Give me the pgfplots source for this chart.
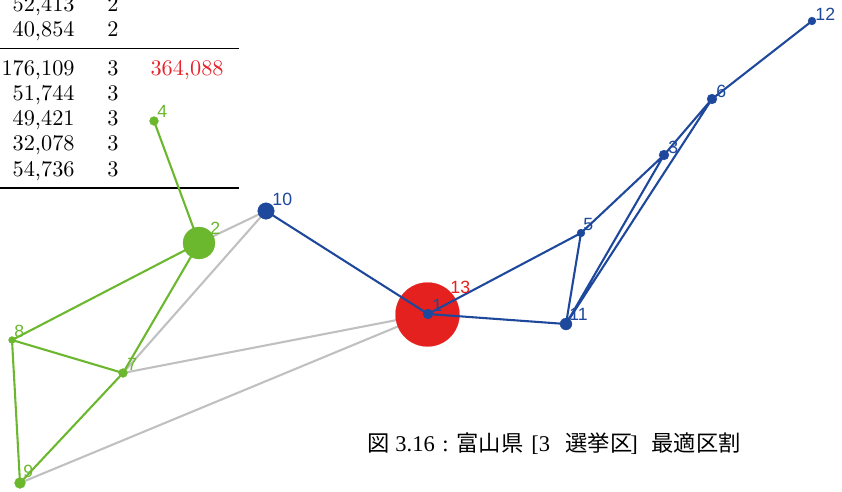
\documentclass[border=0pt]{standalone}
\usepackage{pgfplots}
\pgfplotsset{compat=1.18}
\usepackage{fontspec}
\newfontfamily\cjk{Noto Sans CJK JP}
\newfontfamily\lab{Liberation Sans}
\newfontfamily\tms{Liberation Serif}

\definecolor{nblue}{RGB}{29,72,155}
\definecolor{ngreen}{RGB}{107,183,45}
\definecolor{nred}{RGB}{228,33,30}
\definecolor{ngrey}{RGB}{192,192,192}
\definecolor{tred}{RGB}{232,33,42}

% node positions (pixel grid of the page, y downwards) and radius
\pgfplotstableread{
x y r
428 314 5
664 155 5
581 233 4
712 99 5
266 211 8.3
566 324 6
812 21 4
}\bluenodes
\pgfplotstableread{
x y r
199 243 16
154 121 4.5
123 373 4.5
12 340 3.5
20 483 5.5
}\greennodes
\pgfplotstableread{
x y r
427.5 314.5 32
}\rednodes

\begin{document}
\begin{tikzpicture}
\begin{axis}[
    hide axis, scale only axis,
    width=404.16pt, height=235.68pt,
    xmin=0, xmax=842, ymin=0, ymax=491,
    y dir=reverse, clip=false,
    clip marker paths=true,
    unbounded coords=jump,
    nodeset/.style={scatter, only marks, mark=*,
        point meta=\thisrow{r},
        scatter/use mapped color={draw=#1, fill=#1, line width=0.1pt},
        visualization depends on={0.48*\thisrow{r} \as \rad},
        scatter/@pre marker code/.append style={/tikz/mark size=\rad}},
]
% table fragment
\begin{scope}[every node/.style={inner sep=0pt, font=\fontsize{10.7}{12}\selectfont}]
\node[anchor=base east] at (axis cs:75,11) {52,413};
\node[anchor=base] at (axis cs:113,11) {2};
\node[anchor=base east] at (axis cs:75,36) {40,854};
\node[anchor=base] at (axis cs:113,36) {2};
\node[anchor=base east] at (axis cs:75,75) {176,109};
\node[anchor=base] at (axis cs:113,75) {3};
\node[anchor=base east, text=tred] at (axis cs:224,75) {364,088};
\node[anchor=base east] at (axis cs:75,100) {51,744};
\node[anchor=base] at (axis cs:113,100) {3};
\node[anchor=base east] at (axis cs:75,125) {49,421};
\node[anchor=base] at (axis cs:113,125) {3};
\node[anchor=base east] at (axis cs:75,150) {32,078};
\node[anchor=base] at (axis cs:113,150) {3};
\node[anchor=base east] at (axis cs:75,176) {54,736};
\node[anchor=base] at (axis cs:113,176) {3};
\end{scope}
\draw[line width=0.5pt] (axis cs:-20,48.5) -- (axis cs:239,48.5);
\draw[line width=0.8pt] (axis cs:-20,188) -- (axis cs:239,188);

% edges between districts
\addplot[ngrey, line width=1pt, no marks] table {
x y
199 243
266 211
123 373
428 314
20 483
};
\addplot[ngreen, line width=1pt, no marks] table {
x y
154 121
199 243
12 340
20 483
123 373
199 243
nan nan
12 340
123 373
};
\addplot[nodeset=ngreen] table {\greennodes};
\addplot[nodeset=nred] table {\rednodes};
\addplot[nblue, line width=1pt, no marks] table {
x y
266 211
428 314
581 233
664 155
712 99
812 21
nan nan
428 314
566 324
581 233
nan nan
664 155
566 324
712 99
};
\addplot[nodeset=nblue] table {\bluenodes};

% node labels
\begin{scope}[every node/.style={inner sep=0pt, anchor=base west, font=\lab\fontsize{8.5}{10}\selectfont}]
\node[text=nblue] at (axis cs:432,311) {1};
\node[text=ngreen] at (axis cs:210,234) {2};
\node[text=nblue] at (axis cs:668,153) {3};
\node[text=ngreen] at (axis cs:157,117) {4};
\node[text=nblue] at (axis cs:583,230) {5};
\node[text=nblue] at (axis cs:716,97) {6};
\node[text=ngreen] at (axis cs:127,370) {7};
\node[text=ngreen] at (axis cs:14,337) {8};
\node[text=ngreen] at (axis cs:23,477) {9};
\node[text=nblue] at (axis cs:272,205) {10};
\node[text=nblue] at (axis cs:569,320) {11};
\node[text=nblue] at (axis cs:815,20) {12};
\node[text=nred] at (axis cs:450,293) {13};
\end{scope}

% caption
\begin{scope}[every node/.style={inner sep=0pt, anchor=base west}]
\begin{scope}[every node/.append style={font=\cjk\fontsize{10.7}{13}\selectfont}]
\node at (axis cs:367,451) {図};
\node at (axis cs:456,451) {富山県};
\node at (axis cs:565,451) {選挙区};
\node at (axis cs:651,451) {最適区割};
\end{scope}
\begin{scope}[every node/.append style={font=\tms\fontsize{10.8}{13}\selectfont}]
\node at (axis cs:395,451) {3.16};
\node at (axis cs:442,451) {:};
\node at (axis cs:531,451) {[3};
\node at (axis cs:630,451) {]};
\end{scope}
\end{scope}
\end{axis}
\pgfresetboundingbox
\path (current axis.south west) rectangle (current axis.north east);
\end{tikzpicture}
\end{document}
